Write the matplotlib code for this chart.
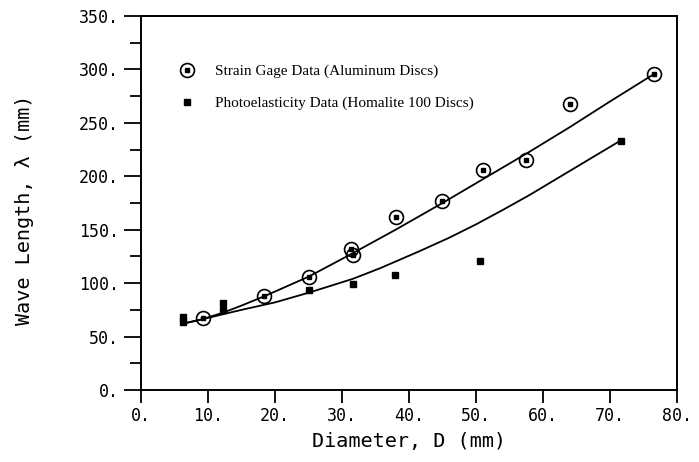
import matplotlib
matplotlib.use('Agg')
import matplotlib.pyplot as plt
from matplotlib.ticker import MultipleLocator, FuncFormatter

# strain gage measurements (aluminum discs)
strain_d = [9.2, 18.4, 25.1, 31.4, 31.7, 38.0, 44.9, 51.0, 57.5, 64.0, 76.6]
strain_wl = [67, 88, 106, 132, 126, 162, 177, 206, 215, 268, 296]

# photoelasticity measurements (Homalite 100 discs)
photo_d = [6.2, 6.2, 12.3, 12.3, 25.1, 31.6, 37.9, 50.6, 71.6]
photo_wl = [68, 64, 81, 75, 93.5, 99, 107.5, 120.5, 233]

# fitted curves
fit_strain_d = [6.2, 9.0, 12.3, 15.0, 18.5, 25.0, 31.6, 38.0, 45.0, 51.5, 58.0, 64.0, 70.0, 76.4]
fit_strain_wl = [62, 66, 72.5, 79, 88, 106, 128, 150, 175, 199, 223, 246, 270, 295]
fit_photo_d = [6.2, 9.0, 12.3, 15.0, 20.0, 25.0, 31.6, 35.7, 41.6, 46.0, 50.0, 54.0, 58.0,
               62.0, 66.0, 71.6]
fit_photo_wl = [62, 66, 71, 75, 82, 91, 104, 114, 130, 142.5, 155, 168.5, 182.5, 197.5,
                212.5, 233.5]

fig = plt.figure(figsize=(6.99, 4.62), dpi=100)
ax = fig.add_axes([0.2017, 0.1558, 0.7668, 0.8096])

ax.plot(fit_strain_d, fit_strain_wl, color='black', lw=1.3)
ax.plot(fit_photo_d, fit_photo_wl, color='black', lw=1.3)

# circled squares for the strain gage points
ax.plot(strain_d, strain_wl, ls='none', marker='o', ms=10, mfc='none', mec='black', mew=1.2)
ax.plot(strain_d, strain_wl, ls='none', marker='s', ms=3.5, color='black')
ax.plot(photo_d, photo_wl, ls='none', marker='s', ms=4.5, color='black')

# legend entries
h_circ, = ax.plot([], [], ls='none', marker='o', ms=10, mfc='none', mec='black', mew=1.2)
h_sq, = ax.plot([], [], ls='none', marker='s', ms=3.5, color='black')
h_photo, = ax.plot([], [], ls='none', marker='s', ms=4.5, color='black')
leg = ax.legend([(h_circ, h_sq), h_photo],
                ['Strain Gage Data (Aluminum Discs)',
                 'Photoelasticity Data (Homalite 100 Discs)'],
                loc='upper left', bbox_to_anchor=(0.058, 0.887), frameon=False,
                handlelength=1.2, handletextpad=1.2, labelspacing=1.2,
                borderaxespad=0, prop={'family': 'Liberation Serif', 'size': 11})

ax.set_xlim(0, 80)
ax.set_ylim(0, 350)
ax.xaxis.set_major_locator(MultipleLocator(10))
ax.yaxis.set_major_locator(MultipleLocator(50))
ax.yaxis.set_minor_locator(MultipleLocator(25))
fmt = FuncFormatter(lambda v, p: '%d.' % v)
ax.xaxis.set_major_formatter(fmt)
ax.yaxis.set_major_formatter(fmt)

ax.tick_params(axis='both', which='both', direction='out', width=1.3, colors='black')
ax.tick_params(axis='y', which='major', length=12, pad=4, labelsize=12)
ax.tick_params(axis='y', which='minor', length=8)
ax.tick_params(axis='x', which='major', length=9.5, pad=2.5, labelsize=12)
for lab in ax.get_xticklabels() + ax.get_yticklabels():
    lab.set_family('DejaVu Sans Mono')

for sp in ax.spines.values():
    sp.set_linewidth(1.4)

ax.set_xlabel('Diameter, D (mm)', family='DejaVu Sans Mono', fontsize=14.5)
ax.set_ylabel('Wave Length, λ (mm)', family='DejaVu Sans Mono', fontsize=14.5)
ax.xaxis.set_label_coords(0.5, -0.112)
ax.yaxis.set_label_coords(-0.2, 0.481)

fig.savefig('out.png', dpi=100)
